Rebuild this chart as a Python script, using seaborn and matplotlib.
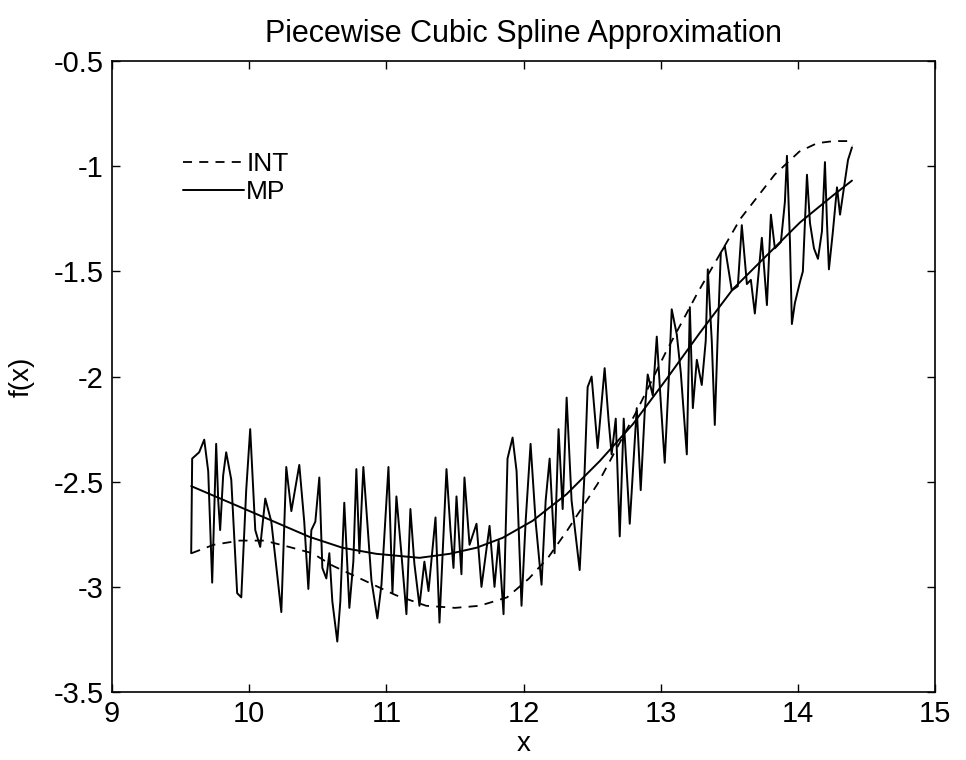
import numpy as np
import pandas as pd
import matplotlib
matplotlib.use("Agg")
import matplotlib.pyplot as plt
import seaborn as sns

# ---- data ----
data_x = [9.577, 9.584, 9.635, 9.672, 9.701, 9.730, 9.759, 9.774, 9.788, 9.810,
          9.832, 9.869, 9.912, 9.942, 9.978, 10.007, 10.044, 10.080, 10.117, 10.161,
          10.234, 10.270, 10.307, 10.365, 10.401, 10.431, 10.453, 10.482, 10.511, 10.533,
          10.562, 10.584, 10.606, 10.642, 10.664, 10.693, 10.730, 10.759, 10.781, 10.803,
          10.832, 10.854, 10.891, 10.934, 10.964, 11.015, 11.044, 11.073, 11.109, 11.146,
          11.175, 11.204, 11.241, 11.277, 11.307, 11.358, 11.387, 11.438, 11.467, 11.489,
          11.511, 11.547, 11.569, 11.606, 11.657, 11.693, 11.752, 11.788, 11.818, 11.854,
          11.883, 11.920, 11.949, 11.985, 12.015, 12.051, 12.088, 12.131, 12.161, 12.190,
          12.226, 12.255, 12.285, 12.314, 12.350, 12.409, 12.445, 12.467, 12.496, 12.540,
          12.591, 12.620, 12.642, 12.672, 12.701, 12.730, 12.774, 12.825, 12.854, 12.883,
          12.905, 12.942, 12.971, 13.000, 13.029, 13.058, 13.080, 13.117, 13.146, 13.190,
          13.212, 13.234, 13.263, 13.299, 13.328, 13.343, 13.372, 13.394, 13.416, 13.438,
          13.467, 13.518, 13.562, 13.591, 13.628, 13.657, 13.686, 13.737, 13.774, 13.803,
          13.832, 13.876, 13.905, 13.920, 13.942, 13.956, 13.978, 14.015, 14.036, 14.066,
          14.088, 14.117, 14.146, 14.175, 14.197, 14.212, 14.226, 14.255, 14.285, 14.307,
          14.336, 14.365, 14.394]
data_y = [-2.84, -2.39, -2.36, -2.30, -2.45, -2.98, -2.32, -2.59, -2.73, -2.47,
          -2.36, -2.49, -3.03, -3.05, -2.54, -2.25, -2.73, -2.81, -2.58, -2.69,
          -3.12, -2.43, -2.64, -2.42, -2.69, -3.01, -2.73, -2.69, -2.48, -2.91,
          -2.96, -2.84, -3.07, -3.26, -3.07, -2.60, -3.10, -2.88, -2.44, -2.84,
          -2.43, -2.63, -2.97, -3.15, -2.99, -2.43, -3.03, -2.57, -2.84, -3.13,
          -2.63, -2.89, -3.09, -2.88, -3.02, -2.67, -3.17, -2.44, -2.73, -2.91,
          -2.57, -2.94, -2.48, -2.80, -2.70, -3.00, -2.71, -3.00, -2.78, -3.13,
          -2.39, -2.29, -2.45, -3.09, -2.69, -2.32, -2.69, -2.99, -2.59, -2.39,
          -2.84, -2.25, -2.63, -2.10, -2.59, -2.92, -2.45, -2.05, -2.00, -2.34,
          -1.96, -2.21, -2.37, -2.20, -2.76, -2.20, -2.70, -2.15, -2.54, -2.17,
          -1.99, -2.09, -1.81, -2.12, -2.41, -2.02, -1.68, -1.80, -1.98, -2.37,
          -1.67, -2.15, -1.92, -2.04, -1.83, -1.49, -1.83, -2.23, -1.79, -1.41,
          -1.38, -1.59, -1.57, -1.28, -1.56, -1.54, -1.70, -1.34, -1.66, -1.23,
          -1.39, -1.36, -1.17, -0.95, -1.36, -1.75, -1.65, -1.55, -1.50, -1.04,
          -1.27, -1.39, -1.44, -1.31, -0.98, -1.27, -1.49, -1.31, -1.10, -1.23,
          -1.10, -0.97, -0.91]

int_x = [9.58, 9.74, 9.93, 10.11, 10.29, 10.46, 10.61, 10.84, 11.07, 11.29,
         11.50, 11.68, 11.88, 12.04, 12.18, 12.32, 12.54, 12.82, 13.04, 13.27,
         13.58, 13.83, 14.01, 14.14, 14.26, 14.37, 14.40]
int_y = [-2.84, -2.80, -2.78, -2.78, -2.81, -2.84, -2.90, -2.97, -3.04, -3.09,
         -3.10, -3.09, -3.05, -2.96, -2.86, -2.73, -2.51, -2.17, -1.88, -1.60,
         -1.25, -1.04, -0.93, -0.89, -0.88, -0.88, -0.90]

mp_x = [9.577, 10.0, 10.438, 10.679, 10.927, 11.241, 11.460, 11.657, 11.847, 12.066,
        12.314, 12.555, 12.796, 13.044, 13.285, 13.526, 13.774, 14.015, 14.255, 14.394]
mp_y = [-2.521, -2.639, -2.762, -2.814, -2.843, -2.862, -2.843, -2.814, -2.767, -2.686,
        -2.559, -2.402, -2.227, -2.010, -1.792, -1.584, -1.423, -1.267, -1.139, -1.068]

x_ticks = [9, 10, 11, 12, 13, 14, 15]
y_ticks = [-3.5, -3, -2.5, -2, -1.5, -1, -0.5]
y_tick_labels = ["-3.5", "-3", "-2.5", "-2", "-1.5", "-1", "-0.5"]

# ---- style ----
sns.set_theme(style="ticks")
plt.rcParams["font.family"] = ["Liberation Sans", "DejaVu Sans"]
plt.rcParams["xtick.direction"] = "in"
plt.rcParams["ytick.direction"] = "in"

fig = plt.figure(figsize=(9.66, 7.6), dpi=100)
ax = fig.add_axes([0.116, 0.0895, 0.852, 0.830])

df_data = pd.DataFrame({"x": data_x, "y": data_y})
df_int = pd.DataFrame({"x": int_x, "y": int_y})
df_mp = pd.DataFrame({"x": mp_x, "y": mp_y})

sns.lineplot(data=df_data, x="x", y="y", ax=ax, sort=False, estimator=None,
             color="black", linewidth=1.4)
sns.lineplot(data=df_int, x="x", y="y", ax=ax, sort=False, estimator=None,
             color="black", linewidth=1.3, dashes=False, linestyle=(0, (5, 4)),
             label="INT")
sns.lineplot(data=df_mp, x="x", y="y", ax=ax, sort=False, estimator=None,
             color="black", linewidth=1.4, label="MP")

ax.set_xlim(9, 15)
ax.set_ylim(-3.5, -0.5)
ax.set_xticks(x_ticks)
ax.set_xticklabels([str(t) for t in x_ticks])
ax.set_yticks(y_ticks)
ax.set_yticklabels(y_tick_labels)
ax.tick_params(axis="both", which="both", labelsize=21, length=6, width=1,
               top=True, right=True, color="black", labelcolor="black", pad=6)
for s in ax.spines.values():
    s.set_visible(True)
    s.set_color("black")
    s.set_linewidth(1.2)

ax.set_xlabel("x", fontsize=20, color="black", labelpad=2)
ax.set_ylabel("f(x)", fontsize=20, color="black", labelpad=14)
ax.set_title("Piecewise Cubic Spline Approximation", fontsize=22, color="black", pad=14)

leg = ax.legend(loc="upper left", bbox_to_anchor=(0.086, 0.856), frameon=False,
                fontsize=19, handlelength=2.3, handletextpad=0.1, labelspacing=0.15,
                borderaxespad=0, borderpad=0, labelcolor="black")

fig.savefig("out.png", dpi=100, facecolor="white")
